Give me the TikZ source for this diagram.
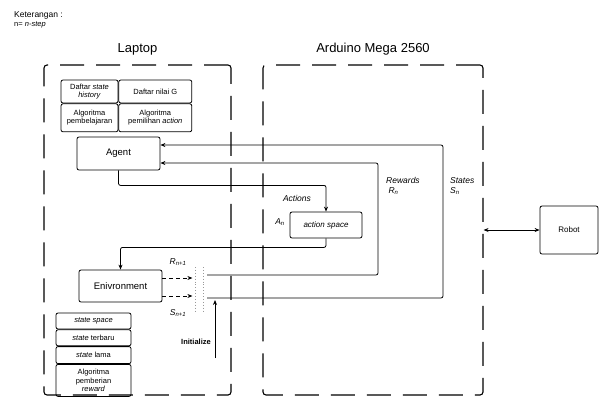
\documentclass[tikz,border=0pt]{standalone}
\usepackage{fontspec}
\setmainfont{Liberation Sans}
\usetikzlibrary{arrows.meta,positioning}
\tikzset{
  box/.style={draw,rounded corners=2pt,align=center,inner sep=1pt,line width=0.8pt},
  cell/.style={box,font=\fontsize{7.5}{8.5}\selectfont},
  region/.style={draw,rounded corners=3pt,line width=1.1pt,dash pattern=on 24pt off 12pt},
  title/.style={font=\fontsize{13}{15}\selectfont,inner sep=0pt},
  flow/.style={-{Stealth[length=5pt,width=4pt]},line width=0.8pt,rounded corners=2pt},
  lab/.style={font=\fontsize{8.5}{10}\selectfont\itshape,inner sep=0pt,align=left},
  gate/.style={draw=black!40,dotted,line width=0.9pt},
}
\begin{document}
\begin{tikzpicture}[x=1pt,y=-1pt]
\useasboundingbox (0,0) rectangle (605,397);

% legend
\node[anchor=west,inner sep=0pt,font=\fontsize{8.5}{9}\selectfont] (ket) at (14,15) {Keterangan :};
\node[anchor=west,inner sep=0pt,font=\fontsize{7.5}{8}\selectfont] (nstep) at (14,25) {n= \textit{n-step}};

% the two parts
\node[region,minimum width=187pt,minimum height=330pt] (laptop) at (137.5,230) {};
\node[region,minimum width=220pt,minimum height=330pt] (arduino) at (373,230) {};
\node[title,above=9pt of laptop] (laptoptitle) {Laptop};
\node[title,above=9pt of arduino] (arduinotitle) {Arduino Mega 2560};

% agent side
\node[cell,minimum width=57pt,minimum height=23pt] (hist) at (89.5,91.5) {Daftar \textit{state}\\\textit{history}};
\node[cell,minimum width=73pt,minimum height=23pt,right=0pt of hist] (gval) {Daftar nilai G};
\node[cell,minimum width=57pt,minimum height=28pt,below=0pt of hist] (learn) {Algoritma\\pembelajaran};
\node[cell,minimum width=73pt,minimum height=28pt,below=0pt of gval] (choose) {Algoritma\\pemilihan \textit{action}};
\node[box,font=\fontsize{9.5}{11}\selectfont,minimum width=83pt,minimum height=33pt] (agent) at (118.5,153.5) {Agent};
\node[box,font=\fontsize{8}{9}\selectfont\itshape,minimum width=72pt,minimum height=26pt] (actspace) at (326,225) {action space};

% environment side
\node[box,font=\fontsize{9.5}{11}\selectfont,minimum width=83pt,minimum height=32pt] (env) at (120.5,286) {Enivronment};
\node[cell,minimum width=75pt,minimum height=16pt] (sspace) at (93.5,321) {\textit{state space}};
\node[cell,minimum width=75pt,minimum height=16pt,below=0pt of sspace] (snew) {\textit{state} terbaru};
\node[cell,minimum width=75pt,minimum height=17pt,below=0pt of snew] (sold) {\textit{state} lama};
\node[cell,minimum width=75pt,minimum height=32pt,below=0pt of sold] (rwdalg) {Algoritma\\pemberian\\\textit{reward}};

\node[box,font=\fontsize{8}{9}\selectfont,minimum width=58pt,minimum height=48pt] (robot) at (569,230) {Robot};

% labels
\node[lab] (actlab) at (297,198) {Actions};
\node[lab] (anlab) at (280,222) {A\textsubscript{n}};
\node[lab,anchor=west] (rwdlab) at (386,186) {Rewards\\\ R\textsubscript{n}};
\node[lab,anchor=west] (stlab) at (450,186) {States\\S\textsubscript{n}};
\node[lab] (rnext) at (178,262) {R\textsubscript{n+1}};
\node[lab] (snext) at (178,313) {S\textsubscript{n+1}};
\node[font=\fontsize{7.5}{9}\selectfont\bfseries,inner sep=0pt] (initlab) at (196,342) {Initialize};

% free ends
\coordinate (gate) at (195,267);
\coordinate (rwdout) at (207,275);
\coordinate (stout) at (207,298);
\coordinate (initsrc) at (215,358);

\draw[flow] (agent.south) -- ++(0,15) -| (actspace.north);
\draw[flow] (actspace.south) -- ++(0,9) -| (env.north);
\draw[flow,dash pattern=on 4pt off 3pt] ([yshift=8pt]env.east) -- ++(30,0);
\draw[flow,dash pattern=on 4pt off 3pt] ([yshift=-10pt]env.east) -- ++(30,0);
\draw[gate] (gate) -- ++(0,45);
\draw[gate] ([xshift=8pt]gate) -- ++(0,45);
\draw[flow] (rwdout) -- ++(171,0) |- ([yshift=-9.5pt]agent.east);
\draw[flow] (stout) -- ++(236,0) |- ([yshift=8.5pt]agent.east);
\draw[flow] (initsrc) -- ++(0,-58);
\draw[{Stealth[length=5pt,width=4pt]}-{Stealth[length=5pt,width=4pt]},line width=0.8pt] (arduino.east) -- (robot.west);
\end{tikzpicture}
\end{document}
